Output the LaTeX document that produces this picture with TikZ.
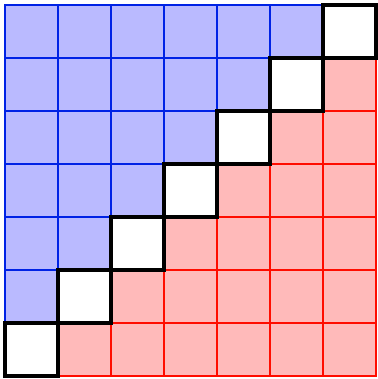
\documentclass[tikz,border=0pt]{standalone}
\begin{document}
\begin{tikzpicture}[
  bluecell/.style={fill=blue!27, draw=blue!85!cyan!90!black, line width=0.8pt},
  redcell/.style={fill=red!27, draw=red!90!orange, line width=0.8pt},
  diagcell/.style={fill=white, draw=black, line width=1.9pt}]
\useasboundingbox (-0.094,-0.057) rectangle (7.038,7.094);
\foreach \r in {0,...,6}{
  \foreach \c in {0,...,6}{
    \ifnum\c<\r
      \draw[bluecell] (\c,\r) rectangle ++(1,1);
    \else\ifnum\c>\r
      \draw[redcell] (\c,\r) rectangle ++(1,1);
    \fi\fi
  }
}
\foreach \i in {0,...,6}{
  \draw[diagcell] (\i,\i) rectangle ++(1,1);
}
\end{tikzpicture}
\end{document}
